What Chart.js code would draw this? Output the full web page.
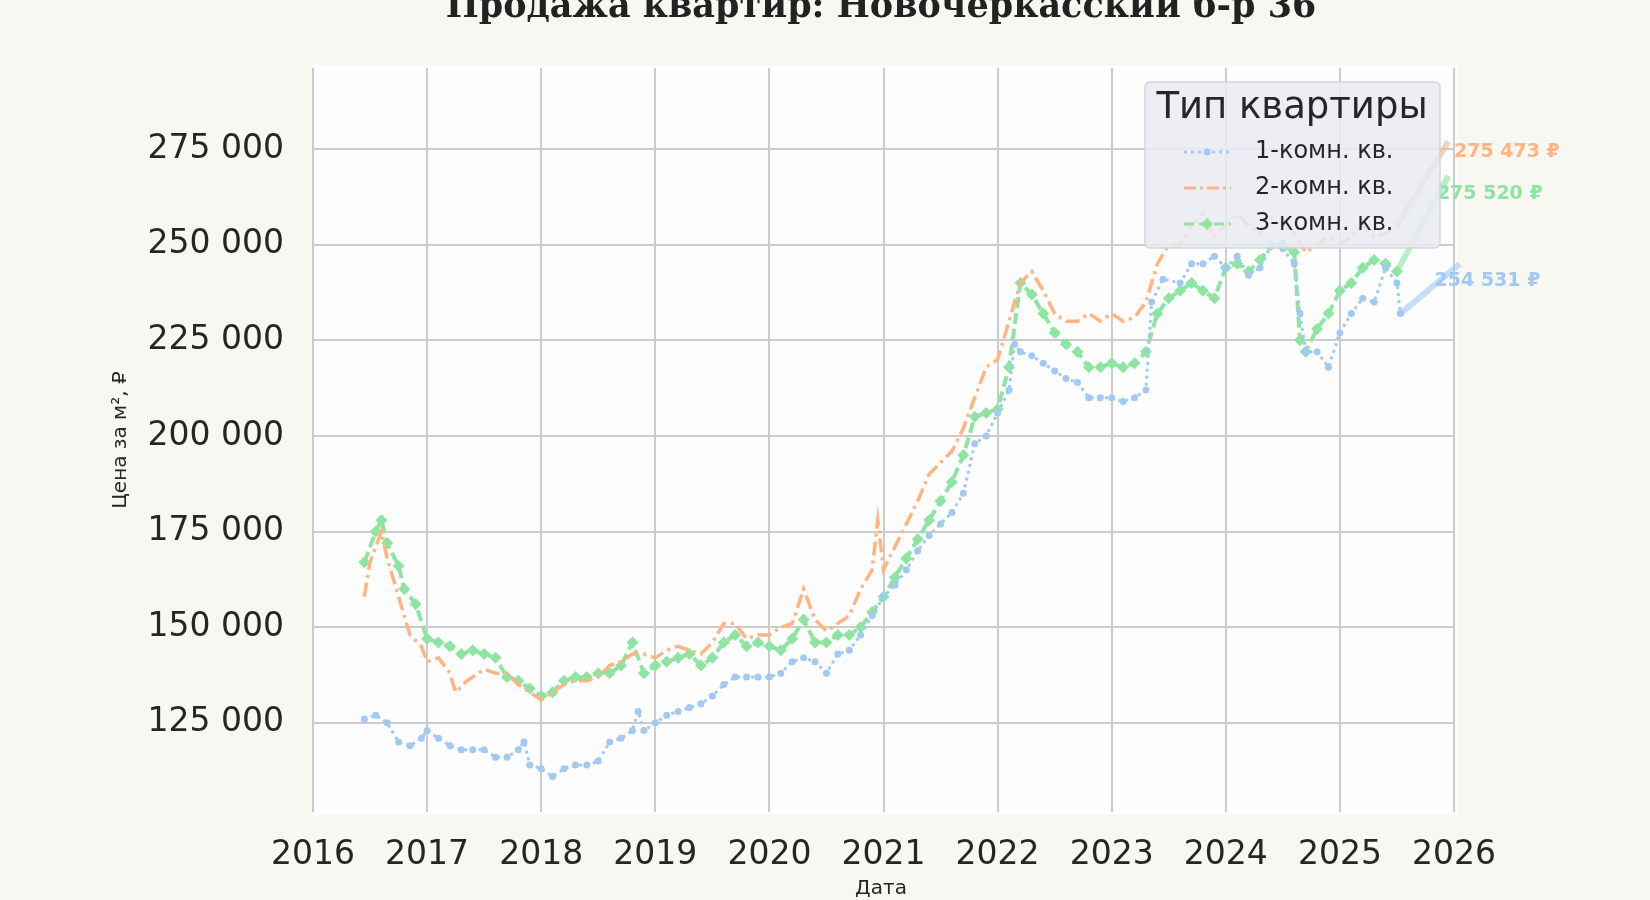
<!DOCTYPE html>
<html><head><meta charset="utf-8">
<script src="https://cdn.jsdelivr.net/npm/chart.js@4"></script>
<style>html,body{margin:0;background:#f8f7f2}canvas{display:block}</style></head>
<body><div style="width:1650px;height:900px"><canvas id="c"></canvas></div>
<script>
const seriesNames=["1-комн. кв.","2-комн. кв.","3-комн. кв."];
const lastLabels=["254 531 ₽","275 473 ₽","275 520 ₽"];
const xTicks=[2016,2017,2018,2019,2020,2021,2022,2023,2024,2025,2026];
const yTicks=[125000,150000,175000,200000,225000,250000,275000];
const room1Dates=[2016.45,2016.55,2016.65,2016.75,2016.85,2016.95,2017.0,2017.1,2017.2,2017.3,2017.4,2017.5,2017.6,2017.7,2017.8,2017.85,2017.9,2018.0,2018.1,2018.2,2018.3,2018.4,2018.5,2018.6,2018.7,2018.8,2018.85,2018.9,2019.0,2019.1,2019.2,2019.3,2019.4,2019.5,2019.6,2019.7,2019.8,2019.9,2020.0,2020.1,2020.2,2020.3,2020.4,2020.5,2020.6,2020.7,2020.8,2020.9,2021.0,2021.1,2021.2,2021.3,2021.4,2021.5,2021.6,2021.7,2021.8,2021.9,2022.0,2022.1,2022.15,2022.2,2022.3,2022.4,2022.5,2022.6,2022.7,2022.8,2022.9,2023.0,2023.1,2023.2,2023.3,2023.35,2023.45,2023.6,2023.7,2023.8,2023.9,2024.0,2024.1,2024.2,2024.3,2024.4,2024.5,2024.6,2024.65,2024.7,2024.8,2024.9,2025.0,2025.1,2025.2,2025.3,2025.4,2025.5,2025.53];
const room1Values=[126,127,125,120,119,121,123,121,119,118,118,118,116,116,118,120,114,113,111,113,114,114,115,120,121,123,128,123,125,127,128,129,130,132,135,137,137,137,137,138,141,142,141,138,143,144,148,153,158,161,165,170,174,177,180,185,198,200,206,212,224,222,221,219,217,215,214,210,210,210,209,210,212,235,241,240,245,245,247,244,247,242,244,250,249,245,232,222,222,218,227,232,236,235,244,240,232];
const room2Dates=[2016.45,2016.5,2016.6,2016.65,2016.75,2016.85,2016.95,2017.0,2017.1,2017.2,2017.25,2017.35,2017.5,2017.6,2017.7,2017.8,2017.9,2018.0,2018.1,2018.2,2018.3,2018.4,2018.5,2018.6,2018.7,2018.8,2018.9,2019.0,2019.1,2019.2,2019.3,2019.4,2019.5,2019.6,2019.7,2019.8,2019.9,2020.0,2020.1,2020.2,2020.3,2020.4,2020.5,2020.6,2020.7,2020.8,2020.9,2020.95,2021.0,2021.1,2021.2,2021.3,2021.4,2021.5,2021.6,2021.7,2021.8,2021.9,2022.0,2022.1,2022.2,2022.3,2022.4,2022.5,2022.6,2022.7,2022.8,2022.9,2023.0,2023.1,2023.2,2023.3,2023.4,2023.5,2023.6,2023.7,2023.8,2023.9,2024.0,2024.1,2024.2,2024.3,2024.4,2024.5,2024.6,2024.7,2024.8,2024.9,2025.0,2025.1,2025.2,2025.3,2025.4,2025.5];
const room2Values=[158,167,175,168,158,148,145,141,142,138,133,136,139,138,138,135,133,131,133,135,136,136,137,140,141,143,143,142,144,145,144,143,146,151,151,147,148,148,150,151,160,152,149,151,153,160,165,178,165,171,177,183,190,193,196,202,210,218,220,230,240,243,238,232,230,230,232,230,232,230,231,235,245,250,250,255,258,252,255,258,255,253,257,255,253,248,250,252,250,252,255,252,253,255];
const room3Dates=[2016.45,2016.55,2016.6,2016.65,2016.75,2016.8,2016.9,2017.0,2017.1,2017.2,2017.3,2017.4,2017.5,2017.6,2017.7,2017.8,2017.9,2018.0,2018.1,2018.2,2018.3,2018.4,2018.5,2018.6,2018.7,2018.8,2018.9,2019.0,2019.1,2019.2,2019.3,2019.4,2019.5,2019.6,2019.7,2019.8,2019.9,2020.0,2020.1,2020.2,2020.3,2020.4,2020.5,2020.6,2020.7,2020.8,2020.9,2021.0,2021.1,2021.2,2021.3,2021.4,2021.5,2021.6,2021.7,2021.8,2021.9,2022.0,2022.1,2022.2,2022.3,2022.4,2022.5,2022.6,2022.7,2022.8,2022.9,2023.0,2023.1,2023.2,2023.3,2023.4,2023.5,2023.6,2023.7,2023.8,2023.9,2024.0,2024.1,2024.2,2024.3,2024.4,2024.5,2024.6,2024.65,2024.7,2024.8,2024.9,2025.0,2025.1,2025.2,2025.3,2025.4,2025.5];
const room3Values=[167,175,178,172,166,160,156,147,146,145,143,144,143,142,137,136,134,132,133,136,137,137,138,138,140,146,138,140,141,142,143,140,142,146,148,145,146,145,144,147,152,146,146,148,148,150,154,158,163,168,173,178,183,188,195,205,206,207,218,240,237,232,227,224,222,218,218,219,218,219,222,232,236,238,240,238,236,244,245,243,246,250,250,248,225,222,228,232,238,240,244,246,245,243];
// annotation arrow ends and label anchors (data coords)
const annotX=[2026.05,2025.95,2025.95];
const annotY=[245000,277000,268000];
const labelX=[2025.83,2026.0,2025.85];
const labelY=[240500,274200,263200];

const colors=['#a1c9f4','#ffb482','#8de5a1'];
const mk=(d,v)=>d.map((x,i)=>({x:x,y:v[i]*1000}));
const FONT='"DejaVu Sans"';
const deco={id:'deco',
 beforeDraw(ch){const a=ch.chartArea,c=ch.ctx;c.save();c.fillStyle='#fdfdfd';c.fillRect(a.left,a.top-3,a.right-a.left+4,a.bottom-a.top+6);c.restore();},
 afterDraw(ch){const c=ch.ctx,xs=ch.scales.x,ys=ch.scales.y;c.save();
  c.font='bold 35px "DejaVu Serif"';c.fillStyle='#222';c.textAlign='center';c.textBaseline='middle';
  c.fillText('Продажа квартир: Новочеркасский б-р 36',881,8);
  c.font='20px '+FONT;c.fillStyle='#262626';c.fillText('Дата',881,889);
  c.save();c.translate(121,440);c.rotate(-Math.PI/2);c.fillText('Цена за м², ₽',0,0);c.restore();
  const ds=ch.data.datasets;
  for(let i=0;i<3;i++){const d=ds[i].data,l=d[d.length-1];
   const x0=xs.getPixelForValue(l.x),y0=ys.getPixelForValue(l.y);
   const x1=xs.getPixelForValue(annotX[i]),y1=ys.getPixelForValue(annotY[i]);
   c.globalAlpha=0.6;c.strokeStyle=colors[i];c.lineWidth=6;c.beginPath();c.moveTo(x0,y0);c.lineTo(x1,y1);c.stroke();
   c.globalAlpha=1;c.font='bold 19px '+FONT;c.fillStyle=colors[i];c.textAlign='left';c.textBaseline='middle';
   c.fillText(lastLabels[i],xs.getPixelForValue(labelX[i]),ys.getPixelForValue(labelY[i]));}
  // legend
  c.fillStyle='rgba(234,234,242,0.85)';c.strokeStyle='rgba(210,210,220,0.9)';c.lineWidth=1.5;
  c.beginPath();c.roundRect(1145,82,295,166,5);c.fill();c.stroke();
  c.fillStyle='#262626';c.font='37px '+FONT;c.textAlign='center';c.textBaseline='middle';c.fillText('Тип квартиры',1292,108);
  const dashes=[[3,4],[12,4,3,4],[10,5]];
  for(let i=0;i<3;i++){const y=152+i*36;c.strokeStyle=colors[i];c.lineWidth=3;c.setLineDash(dashes[i]);
   c.beginPath();c.moveTo(1184,y);c.lineTo(1231,y);c.stroke();c.setLineDash([]);c.fillStyle=colors[i];
   if(i==0){c.beginPath();c.arc(1207,y,3.5,0,7);c.fill();}
   if(i==2){c.beginPath();c.moveTo(1207,y-6);c.lineTo(1213,y);c.lineTo(1207,y+6);c.lineTo(1201,y);c.fill();}
   c.fillStyle='#262626';c.font='24px '+FONT;c.textAlign='left';c.fillText(seriesNames[i],1255,y);}
  c.restore();}};
new Chart(document.getElementById('c'),{type:'line',
 data:{datasets:[
  {label:seriesNames[0],data:mk(room1Dates,room1Values),borderColor:colors[0],backgroundColor:colors[0],borderWidth:3,borderDash:[3,4],pointRadius:3.5,pointStyle:'circle',pointBorderWidth:0},
  {label:seriesNames[1],data:mk(room2Dates,room2Values),borderColor:colors[1],backgroundColor:colors[1],borderWidth:3.5,borderDash:[14,5,3,5],pointRadius:0},
  {label:seriesNames[2],data:mk(room3Dates,room3Values),borderColor:colors[2],backgroundColor:colors[2],borderWidth:4,borderDash:[11,5],pointRadius:6,pointStyle:'rectRot',pointBorderWidth:0}
 ]},
 options:{responsive:true,maintainAspectRatio:false,animation:false,
  layout:{padding:{left:0,right:196,top:68,bottom:0}},
  plugins:{legend:{display:false},tooltip:{enabled:false}},
  scales:{
   x:{type:'linear',min:2016,max:2026,afterBuildTicks(s){s.ticks=xTicks.map(v=>({value:v}));},
     afterFit(s){s.height=88;},
     grid:{color:'#cccccc',lineWidth:2,drawTicks:false},border:{display:false},
     ticks:{color:'#262626',font:{family:FONT,size:33},padding:24,maxRotation:0,callback:v=>String(v)}},
   y:{min:101700,max:296200,afterBuildTicks(s){s.ticks=yTicks.map(v=>({value:v}));},
     afterFit(s){s.width=313;},
     grid:{color:'#cccccc',lineWidth:2,drawTicks:false},border:{display:false},
     ticks:{color:'#262626',font:{family:FONT,size:33},padding:29,callback:v=>String(v).replace(/\B(?=(\d{3})+(?!\d))/g,' ')}}
  }},
 plugins:[deco]});
</script></body></html>
